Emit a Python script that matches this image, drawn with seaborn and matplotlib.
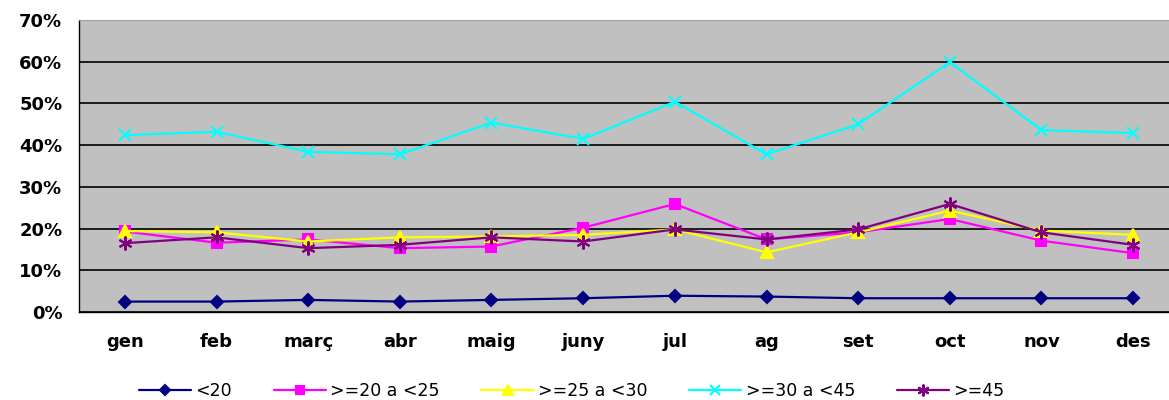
import matplotlib
matplotlib.use("Agg")
import matplotlib.pyplot as plt
import seaborn as sns
import pandas as pd
import numpy as np
from matplotlib.ticker import FixedLocator, FuncFormatter

months = ["gen", "feb", "març", "abr", "maig", "juny", "jul", "ag", "set", "oct", "nov", "des"]
series_names = ["<20", ">=20 a <25", ">=25 a <30", ">=30 a <45", ">=45"]
s_lt20 = [2.5, 2.5, 2.9, 2.5, 2.9, 3.3, 3.9, 3.7, 3.3, 3.3, 3.3, 3.3]
s_20_25 = [19.3, 16.6, 17.4, 15.3, 15.7, 20.2, 25.9, 17.4, 19.1, 22.3, 17.1, 14.1]
s_25_30 = [19.4, 19.1, 16.9, 17.9, 18.1, 18.5, 19.8, 14.3, 19.1, 24.3, 19.5, 18.5]
s_30_45 = [42.4, 43.2, 38.4, 37.8, 45.4, 41.5, 50.4, 37.8, 45.0, 59.9, 43.6, 42.9]
s_ge45 = [16.5, 17.9, 15.3, 16.1, 17.9, 16.9, 19.8, 17.4, 19.8, 25.9, 19.1, 16.1]

colors = ["#000080", "#FF00FF", "#FFFF00", "#00FFFF", "#800080"]
markers = ["D", "s", "^", "x", (6, 2, 0)]
msizes = [6, 7, 8, 8.5, 10]

rows = []
for name, vals in zip(series_names, [s_lt20, s_20_25, s_25_30, s_30_45, s_ge45]):
    for i, v in enumerate(vals):
        rows.append({"idx": i, "month": months[i], "value": v, "serie": name})
df = pd.DataFrame(rows)

sns.set_style("white")
plt.rcParams["font.family"] = ["DejaVu Sans"]
plt.rcParams["text.color"] = "black"
plt.rcParams["xtick.color"] = "black"
plt.rcParams["ytick.color"] = "black"

fig = plt.figure(figsize=(11.69, 4.0), dpi=100)
ax = fig.add_axes([79 / 1169, 88 / 400, 1100 / 1169, 292 / 400])
ax.set_facecolor("#C0C0C0")

for name, col, mk, ms in zip(series_names, colors, markers, msizes):
    sub = df[df["serie"] == name]
    sns.lineplot(data=sub, x="idx", y="value", ax=ax, color=col, marker=mk,
                 markersize=ms, markeredgecolor=col, markerfacecolor=col,
                 markeredgewidth=1.5, linewidth=1.6, label=name, zorder=3)

ax.set_xlim(-0.5, 11.5)
ax.set_ylim(0, 70)
ax.set_yticks(np.arange(0, 71, 10))
ax.yaxis.set_major_formatter(FuncFormatter(lambda v, p: f"{int(v)}%"))
ax.grid(axis="y", color="black", linewidth=1.2, zorder=1)
ax.grid(axis="x", visible=False)
ax.set_axisbelow(True)

ax.set_xticks(np.arange(12))
ax.set_xticklabels(months)
ax.tick_params(axis="x", which="major", length=0, pad=15, labelsize=13, labelcolor="black")
ax.xaxis.set_minor_locator(FixedLocator(np.arange(-0.5, 12, 1)))
ax.tick_params(axis="x", which="minor", length=6, width=1, color="black", direction="out")
ax.tick_params(axis="y", which="major", length=6, width=1, color="black", direction="out",
               labelsize=13, pad=6, labelcolor="black")
for lab in ax.get_xticklabels() + ax.get_yticklabels():
    lab.set_fontweight("bold")

ax.set_xlabel("")
ax.set_ylabel("")
for s in ["left", "bottom"]:
    ax.spines[s].set_visible(True)
    ax.spines[s].set_color("black")
    ax.spines[s].set_linewidth(1)
ax.spines["top"].set_color("#A0A0A0")
ax.spines["right"].set_visible(False)

if ax.legend_:
    ax.legend_.remove()
handles, labels = ax.get_legend_handles_labels()
fig.legend(handles, labels, loc="center", bbox_to_anchor=(0.489, 0.022), ncol=5,
           frameon=False, fontsize=12.5, handlelength=3.0, columnspacing=2.4,
           handletextpad=0.25, markerscale=0.85, labelcolor="black")

fig.savefig("out.png", dpi=100, facecolor="white")
